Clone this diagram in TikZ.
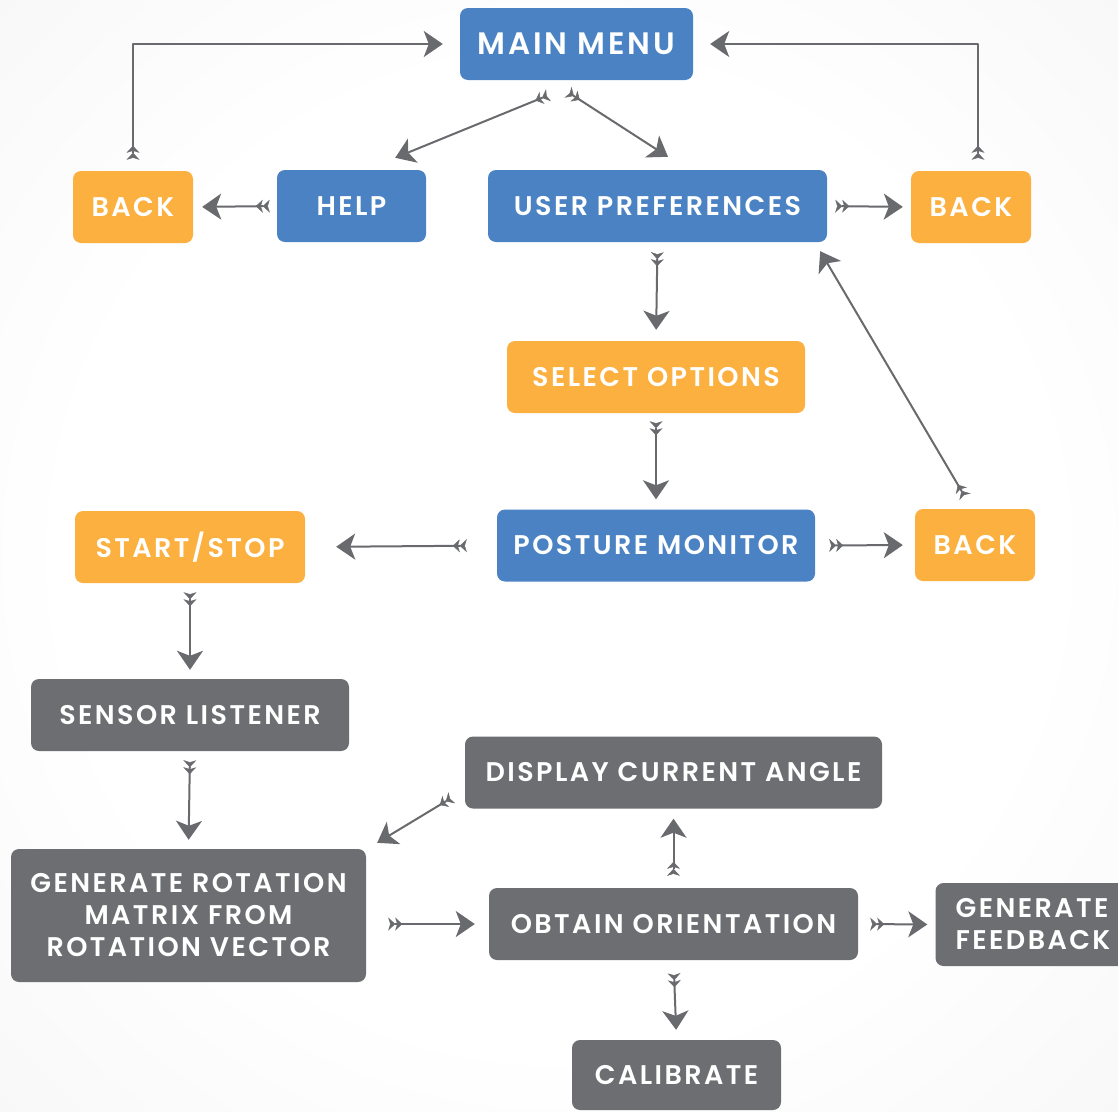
\documentclass[tikz,border=0pt]{standalone}
\usepackage{fontspec}
\setmainfont{Poppins}[BoldFont={Poppins SemiBold}, LetterSpace=9]
\usetikzlibrary{arrows.meta,calc}

\definecolor{menublue}{RGB}{74,130,196}
\definecolor{pickorange}{RGB}{251,176,64}
\definecolor{taskgray}{RGB}{109,110,113}
\definecolor{linegray}{RGB}{105,106,110}
\pgfdeclareradialshading{wash}{\pgfpoint{0bp}{0bp}}{%
  color(0bp)=(white); color(22bp)=(white); color(72bp)=(black!10)}

\begin{document}
\begin{tikzpicture}[
  x=1pt, y=-1pt,
  line join=round,
  box/.style={rounded corners=8pt, minimum height=72pt, inner sep=0pt,
    text=white, align=center, font=\fontsize{27}{32}\selectfont\bfseries},
  menu/.style={box, fill=menublue},
  pick/.style={box, fill=pickorange},
  task/.style={box, fill=taskgray},
  link/.style={draw=linegray, line width=2pt,
    arrows={Stealth[reversed,length=7pt,width=13pt,inset=2pt,line width=0.5pt]Stealth[reversed,length=7pt,width=13pt,inset=2pt,line width=0.5pt]-Stealth[length=19pt,width=26pt,inset=5pt]}},
]

% ── the page, with its soft grey wash ─────────────────────────────────────
\useasboundingbox (0,0) rectangle (1118,1111);
\shade[shading=wash] (0,0) rectangle (1118,1111);

% ── the blue screens ──────────────────────────────────────────────────────
\node[menu, minimum width=233pt, font=\fontsize{31}{36}\selectfont\bfseries] (menu) at (576.5,44) {MAIN MENU};
\node[menu, minimum width=149pt] (help)    at (351.5,206) {HELP};
\node[menu, minimum width=339pt] (prefs)   at (657.5,206) {USER PREFERENCES};
\node[menu, minimum width=318pt] (posture) at (656,545.5) {POSTURE MONITOR};

% ── the orange choices ────────────────────────────────────────────────────
\foreach \n/\x/\y in {backL/133/207, backR/971/207, backM/975/545}
  { \node[pick, minimum width=120pt] (\n) at (\x,\y) {BACK}; }
\node[pick, minimum width=298pt] (select) at (656,377) {SELECT OPTIONS};
\node[pick, minimum width=230pt] (start)  at (190,547) {START/STOP};

% ── the grey steps ────────────────────────────────────────────────────────
\node[task, minimum width=318pt] (sensor)   at (190,715)    {SENSOR LISTENER};
\node[task, minimum width=417pt] (display)  at (673.5,772.5) {DISPLAY CURRENT ANGLE};
\node[task, minimum width=355pt, minimum height=133pt] (rotation) at (188.5,915.5)
  {GENERATE ROTATION\\MATRIX FROM\\ROTATION VECTOR};
\node[task, minimum width=369pt] (obtain)   at (673.5,924)  {OBTAIN ORIENTATION};
\node[task, minimum width=195pt, minimum height=83pt, align=left] (feedback) at (1033,924.5)
  {GENERATE\\FEEDBACK};
\node[task, minimum width=209pt, minimum height=70pt] (calib) at (676.5,1075) {CALIBRATE};

% ── back to the main menu ─────────────────────────────────────────────────
\draw[link, shorten <=11pt, shorten >=17pt] (backL.north) |- (menu.west);
\draw[link, shorten <=11pt, shorten >=17pt] ([xshift=7pt]backR.north) |- (menu.east);

% ── out of the main menu ──────────────────────────────────────────────────
\draw[link] ([shift={(-28,15)}]menu.south) -- ([shift={(-31,-12)}]help.north east);
\draw[link] ([shift={(-8.5,12)}]menu.south) -- ([shift={(10.5,-13)}]prefs.north);
\draw[link] ([shift={(-10,-12)}]backM.north) -- ([shift={(-7,9)}]prefs.south east);
\draw[link] ([shift={(-13,-11)}]display.south west) -- ([shift={(11,-6)}]rotation.north east);

% ── the straight hops ─────────────────────────────────────────────────────
\foreach \a/\b/\s/\e in {%
  help.west/backL.east/7/9, prefs.east/backR.west/8/8,
  prefs.south/select.north/10/11, select.south/posture.north/8/10,
  posture.west/start.east/30/31, posture.east/backM.west/14/12,
  start.south/sensor.north/9/9, sensor.south/rotation.north/9/9,
  obtain.north/display.south/12/10, obtain.east/feedback.west/12/8,
  obtain.south/calib.north/13/10%
} { \draw[link, shorten <=\s pt, shorten >=\e pt] (\a) -- (\b); }
\draw[link, shorten <=22pt, shorten >=14pt] (rotation.east |- obtain.west) -- (obtain.west);

\end{tikzpicture}
\end{document}
